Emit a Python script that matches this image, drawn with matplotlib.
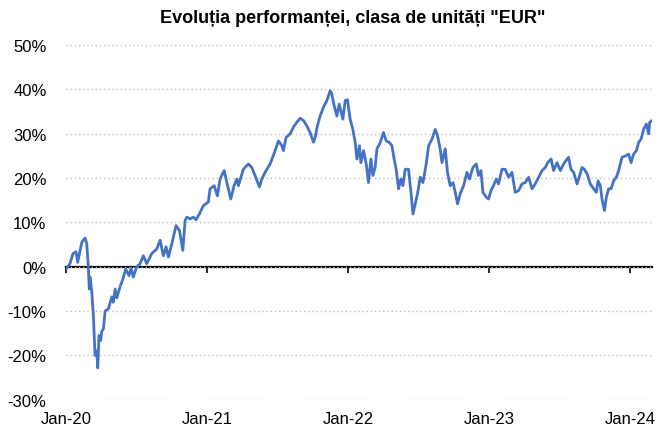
import numpy as np
import pandas as pd
import matplotlib
matplotlib.use('Agg')
import matplotlib.pyplot as plt
from matplotlib.ticker import FuncFormatter

plt.rcParams['font.family'] = ['Liberation Sans', 'DejaVu Sans']

title = 'Evoluția performanței, clasa de unități "EUR"'

# time as fraction of years since 1 Jan 2020, performance in %
years = [
    0.000, 0.028, 0.050, 0.071, 0.083, 0.099, 0.113, 0.135, 0.147, 0.158,
    0.165, 0.170, 0.182, 0.194, 0.206, 0.218, 0.225, 0.234, 0.246, 0.253,
    0.265, 0.277, 0.300, 0.324, 0.335, 0.348, 0.360, 0.383, 0.404, 0.423,
    0.447, 0.461, 0.477, 0.501, 0.525, 0.548, 0.572, 0.608, 0.643, 0.667,
    0.690, 0.709, 0.726, 0.750, 0.780, 0.804, 0.828, 0.844, 0.856, 0.879,
    0.903, 0.922, 0.945, 0.974, 1.009, 1.021, 1.050, 1.073, 1.092, 1.121,
    1.140, 1.168, 1.191, 1.211, 1.222, 1.257, 1.293, 1.317, 1.340, 1.371,
    1.388, 1.411, 1.447, 1.482, 1.506, 1.530, 1.541, 1.560, 1.589, 1.612,
    1.636, 1.660, 1.683, 1.707, 1.730, 1.754, 1.766, 1.782, 1.801, 1.825,
    1.849, 1.872, 1.884, 1.901, 1.920, 1.936, 1.962, 1.979, 1.995, 2.014,
    2.033, 2.050, 2.062, 2.080, 2.090, 2.109, 2.128, 2.144, 2.161, 2.175,
    2.191, 2.204, 2.227, 2.250, 2.270, 2.293, 2.310, 2.326, 2.340, 2.357,
    2.374, 2.388, 2.404, 2.428, 2.445, 2.459, 2.475, 2.491, 2.511, 2.530,
    2.553, 2.570, 2.594, 2.617, 2.633, 2.652, 2.665, 2.688, 2.704, 2.723,
    2.743, 2.759, 2.775, 2.794, 2.818, 2.842, 2.860, 2.884, 2.908, 2.924,
    2.941, 2.955, 2.979, 2.995, 3.012, 3.030, 3.050, 3.066, 3.090, 3.113,
    3.137, 3.161, 3.184, 3.208, 3.232, 3.255, 3.279, 3.303, 3.326, 3.350,
    3.374, 3.397, 3.414, 3.438, 3.456, 3.480, 3.504, 3.527, 3.551, 3.562,
    3.579, 3.598, 3.622, 3.641, 3.657, 3.674, 3.693, 3.716, 3.740, 3.759,
    3.771, 3.787, 3.799, 3.816, 3.830, 3.846, 3.863, 3.882, 3.901, 3.917,
    3.941, 3.965, 3.988, 4.005, 4.023, 4.043, 4.059, 4.076, 4.094, 4.113,
    4.130, 4.137, 4.154,
]
perf = [
    -0.5, 0.7, 3.0, 3.4, 1.0, 3.6, 5.6, 6.5, 5.2, 0.2,
    -5.0, -2.3, -5.4, -11.0, -20.0, -19.0, -22.8, -15.5, -16.6, -14.6,
    -14.0, -10.0, -9.5, -6.8, -8.0, -5.0, -7.0, -4.5, -2.7, -0.5,
    -2.0, -0.3, -2.3, 0.0, 0.7, 2.5, 0.7, 3.0, 4.0, 6.0,
    2.5, 4.5, 2.2, 5.2, 9.3, 8.2, 3.7, 10.4, 11.2, 10.8,
    11.2, 10.6, 11.9, 13.8, 14.6, 17.6, 18.3, 16.0, 19.8, 21.7,
    19.0, 15.3, 18.3, 19.8, 18.3, 22.0, 23.2, 22.4, 20.6, 18.0,
    19.8, 21.3, 23.2, 26.2, 28.4, 27.3, 26.2, 29.2, 30.0, 31.5,
    32.6, 33.5, 33.0, 31.8, 30.3, 28.1, 29.2, 31.8, 34.0, 36.0,
    37.5, 39.7, 39.0, 36.3, 34.0, 36.7, 33.3, 37.5, 37.7, 33.3,
    31.0, 28.0, 24.3, 27.3, 23.5, 26.2, 23.2, 19.0, 24.3, 20.6,
    22.4, 26.6, 28.0, 30.3, 28.4, 28.0, 27.3, 24.3, 22.0, 17.6,
    19.8, 18.3, 22.0, 22.0, 16.8, 11.9, 14.2, 16.4, 20.2, 19.0,
    23.2, 27.3, 28.8, 31.0, 29.6, 26.6, 23.5, 26.6, 21.3, 18.3,
    19.0, 16.8, 14.2, 16.5, 18.3, 21.3, 19.8, 22.4, 23.2, 20.6,
    21.7, 16.8, 15.7, 15.3, 17.2, 18.3, 19.8, 18.7, 22.0, 22.0,
    20.2, 21.3, 16.8, 17.2, 18.7, 19.0, 20.2, 17.6, 18.7, 20.2,
    21.7, 22.4, 23.5, 24.3, 21.7, 23.5, 21.7, 23.2, 24.3, 24.7,
    22.0, 21.3, 18.7, 20.6, 22.4, 22.0, 21.0, 18.7, 17.6, 16.8,
    19.4, 18.3, 15.3, 12.7, 15.7, 17.6, 17.6, 19.4, 20.2, 21.7,
    24.7, 25.0, 25.4, 23.5, 25.4, 26.2, 28.1, 28.8, 31.0, 32.2,
    30.0, 32.6, 33.0,
]

start = pd.Timestamp('2020-01-01')
dates = [start + pd.Timedelta(days=y * 365.25) for y in years]

tick_dates = pd.to_datetime(['2020-01-01', '2021-01-01', '2022-01-01',
                             '2023-01-01', '2024-01-01'])
tick_labels = ['Jan-20', 'Jan-21', 'Jan-22', 'Jan-23', 'Jan-24']
y_ticks = np.arange(-30, 51, 10)

fig = plt.figure(figsize=(6.6, 4.31), dpi=100)
ax = fig.add_axes([0.1, 0.07, 0.888, 0.823])

ax.plot(dates, perf, color='#4472C4', lw=2, solid_joinstyle='round')

ax.set_ylim(-30, 50)
ax.set_xlim(dates[0], dates[-1])
ax.set_yticks(y_ticks)
ax.yaxis.set_major_formatter(FuncFormatter(lambda v, p: f'{v:.0f}%'))
ax.grid(axis='y', color='#BFBFBF', linestyle=(0, (1, 2)), lw=1)
ax.set_axisbelow(True)

ax.set_xticks(tick_dates)
ax.set_xticklabels(tick_labels)
ax.tick_params(axis='both', length=0, labelsize=12)
ax.tick_params(axis='y', pad=14)
ax.tick_params(axis='x', pad=8)
for s in ax.spines.values():
    s.set_visible(False)

# zero line with the tick marks
zero_frac = 30 / 80
sec = ax.secondary_xaxis(zero_frac)
sec.set_xticks(tick_dates)
sec.tick_params(length=4, width=1.2, labelbottom=False, color='black')
sec.spines['bottom'].set_linewidth(1.6)
sec.spines['bottom'].set_color('black')

ax.set_title(title, fontsize=13, fontweight='bold', pad=17, x=0.49)

fig.savefig('out.png', dpi=100)
